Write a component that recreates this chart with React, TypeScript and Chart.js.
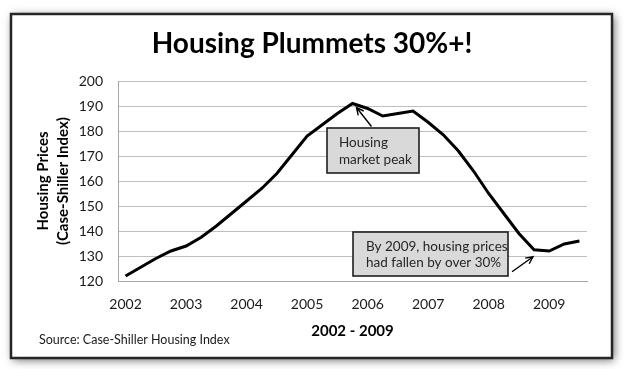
import React, { useEffect, useRef } from "react";
import { Chart, registerables } from "chart.js";

Chart.register(...registerables);

const quarters = [
  "2002 Q1", "2002 Q2", "2002 Q3", "2002 Q4",
  "2003 Q1", "2003 Q2", "2003 Q3", "2003 Q4",
  "2004 Q1", "2004 Q2", "2004 Q3", "2004 Q4",
  "2005 Q1", "2005 Q2", "2005 Q3", "2005 Q4",
  "2006 Q1", "2006 Q2", "2006 Q3", "2006 Q4",
  "2007 Q1", "2007 Q2", "2007 Q3", "2007 Q4",
  "2008 Q1", "2008 Q2", "2008 Q3", "2008 Q4",
  "2009 Q1", "2009 Q2", "2009 Q3",
];

const prices = [
  122, 125.5, 129, 132,
  134, 137.5, 142, 147,
  152, 157, 163, 170.5,
  178, 182.5, 187, 191,
  189, 186, 187, 188,
  183.5, 178.5, 172, 164,
  155, 147, 139, 132.5,
  132, 134.8, 136,
];

const yMin = 120;
const yMax = 200;
const yStep = 10;

const title = "Housing Plummets 30%+!";
const yTitle = ["Housing Prices", "(Case-Shiller Index)"];
const xTitle = "2002 - 2009";
const source = "Source: Case-Shiller Housing Index";
const peakNote = ["Housing", "market peak"];
const fallNote = ["By 2009, housing prices", "had fallen by over 30%"];
const peakIndex = 15;
const troughIndex = 27;

const FONT = "Lato, 'Open Sans', sans-serif";

function arrow(ctx: CanvasRenderingContext2D, x1: number, y1: number, x2: number, y2: number) {
  const a = Math.atan2(y2 - y1, x2 - x1);
  const h = 8;
  ctx.beginPath();
  ctx.moveTo(x1, y1);
  ctx.lineTo(x2, y2);
  ctx.moveTo(x2 - h * Math.cos(a - 0.45), y2 - h * Math.sin(a - 0.45));
  ctx.lineTo(x2, y2);
  ctx.lineTo(x2 - h * Math.cos(a + 0.45), y2 - h * Math.sin(a + 0.45));
  ctx.stroke();
}

function noteBox(ctx: CanvasRenderingContext2D, x: number, y: number, w: number, h: number, lines: string[], tx: number, ty: number) {
  ctx.fillStyle = "#d9d9d9";
  ctx.fillRect(x, y, w, h);
  ctx.lineWidth = 1.6;
  ctx.strokeStyle = "#1e1e1e";
  ctx.strokeRect(x, y, w, h);
  ctx.fillStyle = "#262626";
  ctx.font = `13.5px ${FONT}`;
  ctx.textAlign = "left";
  ctx.textBaseline = "middle";
  lines.forEach((l, i) => ctx.fillText(l, tx, ty + i * 16.5));
}

const deco = {
  id: "deco",
  beforeDraw(chart: any) {
    const ctx: CanvasRenderingContext2D = chart.ctx;
    ctx.save();
    ctx.fillStyle = "#ffffff";
    ctx.fillRect(0, 0, chart.width, chart.height);
    ctx.shadowColor = "rgba(0,0,0,0.6)";
    ctx.shadowBlur = 9;
    ctx.shadowOffsetX = 2;
    ctx.shadowOffsetY = 2;
    ctx.fillStyle = "#ffffff";
    ctx.fillRect(11, 14, 601, 344);
    ctx.shadowColor = "transparent";
    ctx.shadowBlur = 0;
    ctx.shadowOffsetX = 0;
    ctx.shadowOffsetY = 0;
    ctx.lineWidth = 2.5;
    ctx.strokeStyle = "#262626";
    ctx.strokeRect(11, 14, 601, 344);

    const area = chart.chartArea;
    const cx = (area.left + area.right) / 2;

    ctx.fillStyle = "#000000";
    ctx.textAlign = "center";
    ctx.textBaseline = "middle";
    ctx.font = `bold 28px ${FONT}`;
    ctx.fillText(title, 312, 44);

    ctx.font = `bold 15px ${FONT}`;
    ctx.fillText(xTitle, cx, 331);

    ctx.save();
    ctx.translate(43, (area.top + area.bottom) / 2);
    ctx.rotate(-Math.PI / 2);
    ctx.font = `bold 15px ${FONT}`;
    ctx.fillText(yTitle[0], 0, 0);
    ctx.fillText(yTitle[1], 0, 20);
    ctx.restore();

    ctx.fillStyle = "#1a1a1a";
    ctx.textAlign = "left";
    ctx.font = `12.5px ${FONT}`;
    ctx.fillText(source, 39, 340);
    ctx.restore();
  },
  afterDatasetsDraw(chart: any) {
    const ctx: CanvasRenderingContext2D = chart.ctx;
    const xs = chart.scales.x;
    const ys = chart.scales.y;
    ctx.save();
    const px = xs.getPixelForValue(peakIndex);
    const py = ys.getPixelForValue(prices[peakIndex]);
    const tx = xs.getPixelForValue(troughIndex);
    const ty = ys.getPixelForValue(prices[troughIndex]);

    ctx.strokeStyle = "#000000";
    ctx.lineWidth = 1.4;
    arrow(ctx, px + 19, py + 23, px + 4, py + 4);
    arrow(ctx, tx - 22, ty + 22, tx - 1, ty + 7);

    noteBox(ctx, 327, 128, 92, 45, peakNote, 339, 143);
    noteBox(ctx, 353, 232, 155, 44, fallNote, 366, 246.5);
    ctx.restore();
  },
};

export default function App() {
  const ref = useRef<HTMLCanvasElement | null>(null);
  useEffect(() => {
    if (!ref.current) return;
    const chart = new Chart(ref.current, {
      type: "line",
      data: {
        labels: quarters,
        datasets: [
          {
            data: prices,
            borderColor: "#000000",
            borderWidth: 3,
            pointRadius: 0,
            tension: 0,
            fill: false,
          },
        ],
      },
      options: {
        animation: false,
        responsive: false,
        devicePixelRatio: 1,
        layout: { padding: { left: 0, right: 37, top: 81, bottom: 0 } },
        plugins: { legend: { display: false }, tooltip: { enabled: false }, title: { display: false } },
        scales: {
          x: {
            type: "category",
            offset: true,
            grid: { display: false, drawTicks: false },
            border: { display: true, color: "#a6a6a6", width: 1 },
            afterFit: (s: any) => { s.height = 88; },
            ticks: {
              autoSkip: false,
              maxRotation: 0,
              padding: 15,
              color: "#1a1a1a",
              font: { family: FONT, size: 14 },
              callback: (_v: any, i: number) => (quarters[i].endsWith("Q1") ? quarters[i].slice(0, 4) : ""),
            },
          },
          y: {
            min: yMin,
            max: yMax,
            grid: { color: "#bfbfbf", lineWidth: 1, drawTicks: false },
            border: { display: true, color: "#a6a6a6", width: 1 },
            afterFit: (s: any) => { s.width = 118; },
            ticks: {
              stepSize: yStep,
              padding: 15,
              color: "#1a1a1a",
              font: { family: FONT, size: 14 },
            },
          },
        },
      },
      plugins: [deco],
    });
    return () => chart.destroy();
  }, []);
  return (
    <div style={{ position: "fixed", left: 0, top: 0, width: 624, height: 369 }}>
      <canvas ref={ref} width={624} height={369} style={{ width: 624, height: 369, display: "block" }} />
    </div>
  );
}
